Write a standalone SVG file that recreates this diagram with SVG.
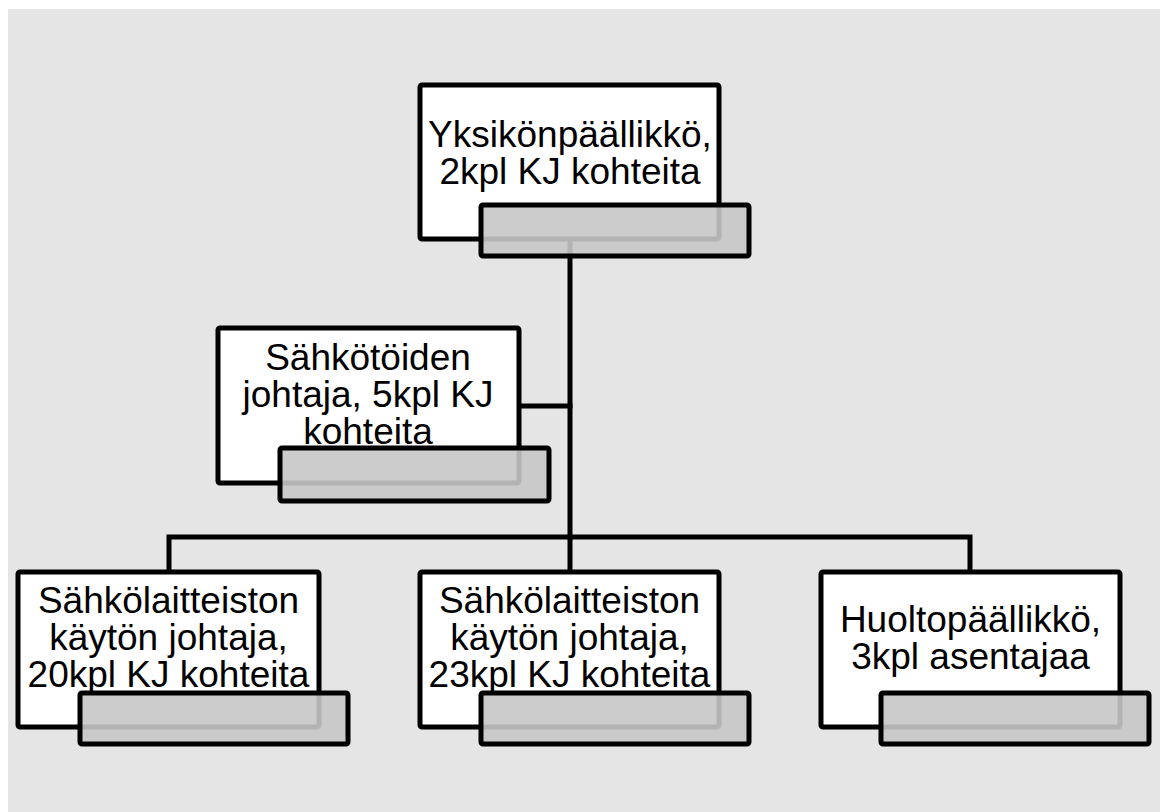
<svg xmlns="http://www.w3.org/2000/svg" width="1162" height="812" viewBox="0 0 1162 812">
<style>
.card{fill:#ffffff;stroke:#000000;stroke-width:5}
.tab{fill:#c6c6c6;fill-opacity:0.9;stroke:#000000;stroke-width:5}
.lbl{font-family:"Liberation Sans",Arial,sans-serif;font-size:37px;fill:#000000;text-anchor:middle}
.wire{fill:none;stroke:#000000;stroke-width:5;stroke-linecap:square}
</style>
<rect x="8" y="9" width="1152" height="810" fill="#e5e5e5"/>
<g id="connectors">
<path class="wire" d="M570 239 V537"/>
<path class="wire" d="M519 406 H570"/>
<path class="wire" d="M169 572 V537 H970 V572"/>
<path class="wire" d="M570 537 V572"/>
</g>
<g id="node-yksikonpaallikko">
<rect class="card" x="420" y="85" width="299" height="154" rx="2"/>
<text class="lbl" x="570" y="147">Yksikönpäällikkö,</text>
<text class="lbl" x="570" y="184">2kpl KJ kohteita</text>
<rect class="tab" x="481" y="205" width="268" height="51" rx="2"/>
</g>
<g id="node-sahkotoiden">
<rect class="card" x="218" y="328" width="301" height="155" rx="2"/>
<text class="lbl" x="368" y="370">Sähkötöiden</text>
<text class="lbl" x="368" y="407">johtaja, 5kpl KJ</text>
<text class="lbl" x="368" y="444">kohteita</text>
<rect class="tab" x="280" y="448" width="269" height="53" rx="2"/>
</g>
<g id="node-kaytto20">
<rect class="card" x="18" y="572" width="301" height="155" rx="2"/>
<text class="lbl" x="168.5" y="613">Sähkölaitteiston</text>
<text class="lbl" x="168.5" y="650">käytön johtaja,</text>
<text class="lbl" x="168.5" y="687">20kpl KJ kohteita</text>
<rect class="tab" x="80" y="693" width="268" height="51" rx="2"/>
</g>
<g id="node-kaytto23">
<rect class="card" x="420" y="572" width="299" height="155" rx="2"/>
<text class="lbl" x="569.5" y="613">Sähkölaitteiston</text>
<text class="lbl" x="569.5" y="650">käytön johtaja,</text>
<text class="lbl" x="569.5" y="687">23kpl KJ kohteita</text>
<rect class="tab" x="481" y="693" width="268" height="51" rx="2"/>
</g>
<g id="node-huoltopaallikko">
<rect class="card" x="821" y="572" width="299" height="155" rx="2"/>
<text class="lbl" x="970.5" y="632">Huoltopäällikkö,</text>
<text class="lbl" x="970.5" y="669">3kpl asentajaa</text>
<rect class="tab" x="881" y="693" width="268" height="51" rx="2"/>
</g>
</svg>
